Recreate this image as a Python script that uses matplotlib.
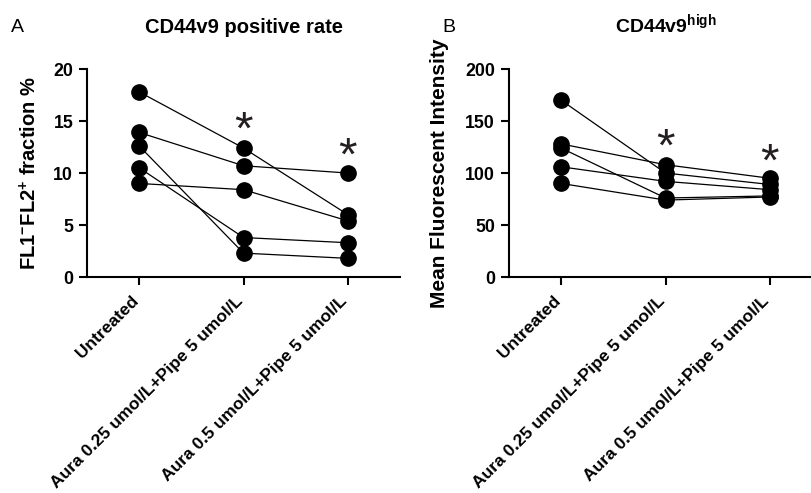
import matplotlib
matplotlib.use("Agg")
import matplotlib.pyplot as plt

plt.rcParams["font.family"] = ["Liberation Sans", "DejaVu Sans"]
plt.rcParams["mathtext.fontset"] = "custom"
plt.rcParams["mathtext.rm"] = "Liberation Sans"
plt.rcParams["mathtext.bf"] = "Liberation Sans:bold"

# ── data ────────────────────────────────────────────────────────────────────
groups = ["Untreated",
          "Aura 0.25 umol/L+Pipe 5 umol/L",
          "Aura 0.5 umol/L+Pipe 5 umol/L"]

# panel A: one row per sample (untreated, 0.25, 0.5)
rate_s1 = [17.8, 12.4, 6.0]
rate_s2 = [13.9, 10.7, 10.0]
rate_s3 = [12.6, 2.3, 1.8]
rate_s4 = [10.5, 3.8, 3.3]
rate_s5 = [9.0, 8.4, 5.4]
rate_star = [None, 14.0, 11.5]

# panel B
mfi_s1 = [170, 100, 89]
mfi_s2 = [128, 108, 95]
mfi_s3 = [124, 76, 78]
mfi_s4 = [106, 92, 84]
mfi_s5 = [90, 74, 77]
mfi_star = [None, 123, 109]


def style_axis(ax, ymax, ystep):
    ax.set_xlim(-0.5, 2.5)
    ax.set_ylim(0, ymax)
    ax.set_yticks(range(0, ymax + 1, ystep))
    ax.set_xticks(range(len(groups)))
    ax.set_xticklabels(groups, rotation=45, ha="right", va="baseline",
                       rotation_mode="anchor", fontsize=12.5,
                       fontweight="bold")
    for lab in ax.get_yticklabels():
        lab.set_fontsize(12.8)
        lab.set_fontweight("bold")
    ax.spines["top"].set_visible(False)
    ax.spines["right"].set_visible(False)
    ax.spines["left"].set_linewidth(1.5)
    ax.spines["bottom"].set_linewidth(1.5)
    ax.tick_params(width=1.5, length=6, direction="out", pad=4)
    ax.tick_params(axis="x", pad=12)


def draw_panel(ax, series, stars):
    for s in series:
        ax.plot(range(len(s)), s, color="black", lw=0.9, marker="o",
                markersize=11, markerfacecolor="black",
                markeredgecolor="black", clip_on=False, zorder=3)
    for i, y in enumerate(stars):
        if y is not None:
            ax.text(i, y, "*", ha="center", va="center", fontsize=34,
                    color="#231f20")


fig = plt.figure(figsize=(8.11, 4.93), dpi=100)
axA = fig.add_axes([0.1073, 0.438, 0.386, 0.422])
axB = fig.add_axes([0.6276, 0.438, 0.386, 0.422])

# ── Panel A ─────────────────────────────────────────────────────────────────
draw_panel(axA, [rate_s1, rate_s2, rate_s3, rate_s4, rate_s5], rate_star)
style_axis(axA, 20, 5)
axA.set_ylabel(r"FL1$^{\mathbf{-}}$FL2$^{\mathbf{+}}$ fraction %",
               fontsize=14.5, fontweight="bold", labelpad=9)
axA.set_title("CD44v9 positive rate", fontsize=14.5, fontweight="bold", pad=26)
fig.text(0.013, 0.945, "A", fontsize=14, va="center")

# ── Panel B ─────────────────────────────────────────────────────────────────
draw_panel(axB, [mfi_s1, mfi_s2, mfi_s3, mfi_s4, mfi_s5], mfi_star)
style_axis(axB, 200, 50)
axB.set_ylabel("Mean Fluorescent Intensity", fontsize=15, fontweight="bold",
               labelpad=12)
axB.set_title(r"CD44v9$^{\mathbf{high}}$", fontsize=14, fontweight="bold",
              pad=26)
fig.text(0.545, 0.945, "B", fontsize=14, va="center")

fig.savefig("out.png", dpi=100)
